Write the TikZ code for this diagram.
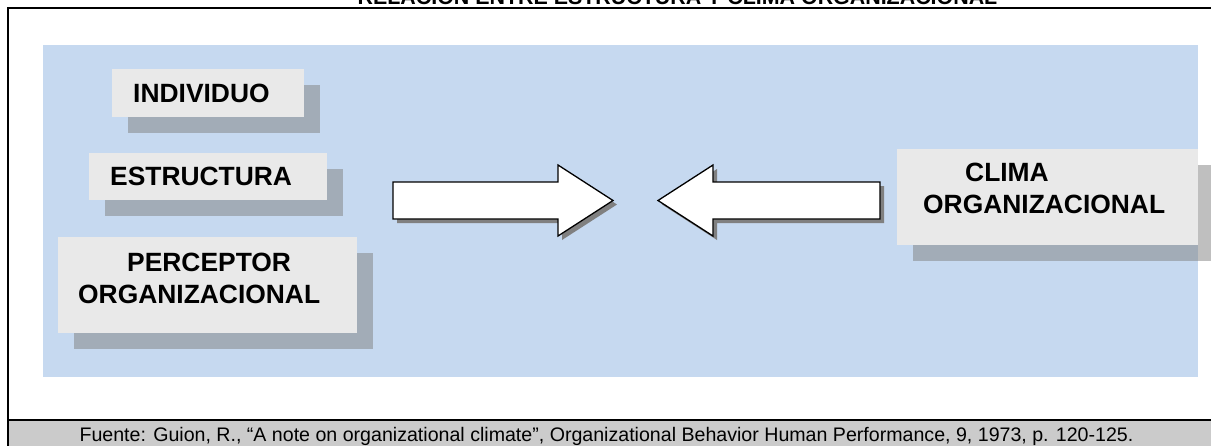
\documentclass[tikz,border=0pt]{standalone}
\usepackage{fontspec}
\setmainfont{Liberation Sans}
\usepackage{xcolor}
\usepackage{tikz}
\usetikzlibrary{shadows}

\definecolor{panelblue}{HTML}{C6D9F0}
\definecolor{boxgray}{HTML}{E9E9E9}
\definecolor{bandgray}{HTML}{CBCBCB}

\begin{document}
\begin{tikzpicture}[
  x=1pt, y=-1pt,
  caja/.style={rectangle, anchor=north west, fill=boxgray, align=left,
               inner ysep=0pt, font=\fontsize{26.4}{31.7}\selectfont\bfseries,
               drop shadow={shadow xshift=16pt, shadow yshift=-16pt}},
  flecha/.style={draw=black, line width=1.3pt, fill=white, line join=miter,
                 drop shadow={shadow xshift=4pt, shadow yshift=-4pt,
                              opacity=1, fill=black!50}},
  marco/.style={line width=2pt}
]
\useasboundingbox (0,0) rectangle (1211,445);

% titulo (cortado arriba)
\node[anchor=base, font=\fontsize{21.4}{24}\selectfont\bfseries] (titulo) at (677.5,4.5)
  {RELACI\'ON ENTRE ESTRUCTURA Y CLIMA ORGANIZACIONAL};

% marco y franja de la fuente
\fill[bandgray] (8,421) rectangle (1212,446);
\draw[marco] (7.5,446) -- (7.5,7.5) -- (1212,7.5);
\draw[marco] (7.5,420) -- (1212,420);

% fondo azul
\fill[panelblue] (43,45) rectangle (1198,377);

% cajas
\node[caja, minimum width=192pt, minimum height=48pt, inner xsep=21pt, text width=150pt]
  (individuo) at (112,69) {INDIVIDUO};
\node[caja, minimum width=238pt, minimum height=47pt, inner xsep=21pt, text width=196pt]
  (estructura) at (89,153) {ESTRUCTURA};
\node[caja, minimum width=299pt, minimum height=96pt, inner xsep=20pt, text width=259pt,
      text depth=45.7pt]
  (perceptor) at (58,237) {\hspace*{49pt}PERCEPTOR\\ORGANIZACIONAL};
\node[caja, minimum width=301pt, minimum height=96pt, inner xsep=26pt, text width=249pt,
      text depth=49.7pt]
  (clima) at (897,149) {\hspace*{42pt}CLIMA\\ORGANIZACIONAL};

% flechas
\draw[flecha] (393,182) -- (558,182) -- (558,165) -- (613,200.5)
  -- (558,236) -- (558,219) -- (393,219) -- cycle;
\draw[flecha] (880,182) -- (713,182) -- (713,165) -- (658,200.5)
  -- (713,236) -- (713,219) -- (880,219) -- cycle;

% fuente
\node[anchor=base, font=\fontsize{19.6}{22}\selectfont] (fuente) at (606.5,441)
  {Fuente: Guion, R., “A note on organizational climate”, Organizational Behavior Human Performance, 9, 1973, p. 120-125.};
\end{tikzpicture}
\end{document}
